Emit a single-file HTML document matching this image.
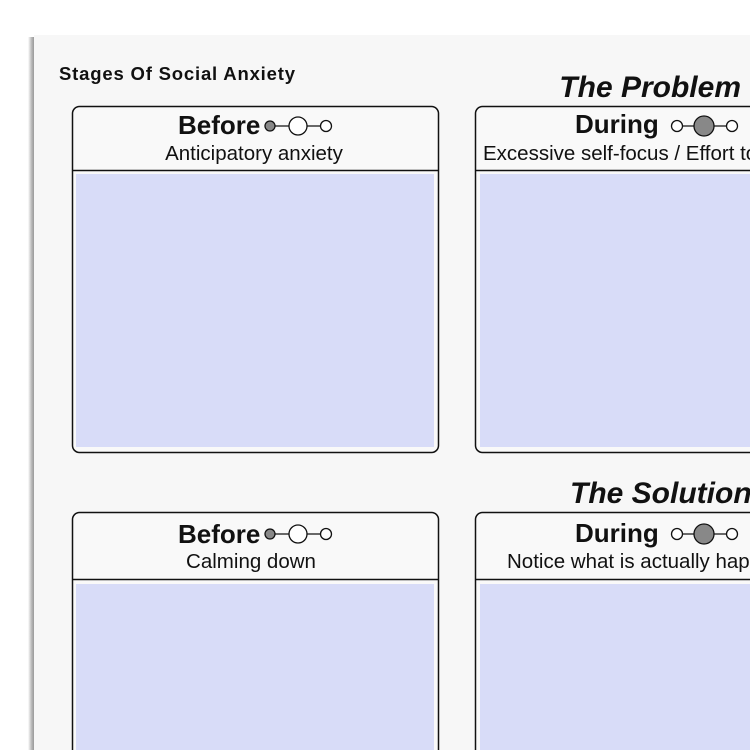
<!DOCTYPE html>
<html><head><style>
html,body{margin:0;padding:0;background:#fff;width:750px;height:750px;overflow:hidden;}
svg{display:block;}
</style></head><body>
<svg width="750" height="750" viewBox="0 0 750 750" xmlns="http://www.w3.org/2000/svg" font-family="Liberation Sans, sans-serif">
<defs>
<linearGradient id="sh" x1="0" x2="1" y1="0" y2="0">
<stop offset="0" stop-color="#fff"/><stop offset="0.6" stop-color="#b8b8b8"/><stop offset="1" stop-color="#9a9a9a"/>
</linearGradient>
</defs>
<rect width="750" height="750" fill="#fff"/>
<rect x="28" y="37" width="6" height="713" fill="url(#sh)"/>
<rect x="34" y="35" width="716" height="715" fill="#f7f7f7"/>
<text x="59" y="80" font-size="18.5" font-weight="bold" fill="#111" textLength="236">Stages Of Social Anxiety</text>
<text x="741" y="97" font-size="30" font-weight="bold" font-style="italic" text-anchor="end" fill="#111">The Problem</text>
<text x="570" y="503" font-size="30" font-weight="bold" font-style="italic" fill="#111">The Solution</text>

<!-- box 1 -->
<rect x="72.5" y="106.5" width="366" height="346" rx="7" fill="#f9f9f9" stroke="#111" stroke-width="1.5"/>
<line x1="72" y1="170.5" x2="439" y2="170.5" stroke="#111" stroke-width="1.5"/>
<rect x="76" y="174" width="358" height="273" fill="#d8dcf8"/>
<text x="178" y="134" font-size="26" font-weight="bold" fill="#111">Before</text>
<text x="254" y="160" font-size="20.5" text-anchor="middle" fill="#111">Anticipatory anxiety</text>
<g stroke="#111" stroke-width="1.3">
<line x1="270" y1="126" x2="326" y2="126"/>
<circle cx="270" cy="126" r="5" fill="#888"/>
<circle cx="298" cy="126" r="9" fill="#fff"/>
<circle cx="326" cy="126" r="5.5" fill="#fff"/>
</g>

<!-- box 2 -->
<rect x="475.5" y="106.5" width="340" height="346" rx="7" fill="#f9f9f9" stroke="#111" stroke-width="1.5"/>
<line x1="475" y1="170.5" x2="750" y2="170.5" stroke="#111" stroke-width="1.5"/>
<rect x="480" y="174" width="280" height="273" fill="#d8dcf8"/>
<text x="575" y="133" font-size="26" font-weight="bold" fill="#111">During</text>
<text x="483" y="160" font-size="20.5" fill="#111">Excessive self-focus / Effort to</text>
<g stroke="#111" stroke-width="1.3">
<line x1="677" y1="126" x2="732" y2="126"/>
<circle cx="677" cy="126" r="5.5" fill="#fff"/>
<circle cx="704" cy="126" r="10" fill="#888"/>
<circle cx="732" cy="126" r="5.5" fill="#fff"/>
</g>

<!-- box 3 -->
<rect x="72.5" y="512.5" width="366" height="300" rx="7" fill="#f9f9f9" stroke="#111" stroke-width="1.5"/>
<line x1="72" y1="579.5" x2="439" y2="579.5" stroke="#111" stroke-width="1.5"/>
<rect x="76" y="584" width="358" height="200" fill="#d8dcf8"/>
<text x="178" y="543" font-size="26" font-weight="bold" fill="#111">Before</text>
<text x="251" y="568" font-size="20.5" text-anchor="middle" fill="#111">Calming down</text>
<g stroke="#111" stroke-width="1.3">
<line x1="270" y1="534" x2="326" y2="534"/>
<circle cx="270" cy="534" r="5" fill="#888"/>
<circle cx="298" cy="534" r="9" fill="#fff"/>
<circle cx="326" cy="534" r="5.5" fill="#fff"/>
</g>

<!-- box 4 -->
<rect x="475.5" y="512.5" width="340" height="300" rx="7" fill="#f9f9f9" stroke="#111" stroke-width="1.5"/>
<line x1="475" y1="579.5" x2="750" y2="579.5" stroke="#111" stroke-width="1.5"/>
<rect x="480" y="584" width="280" height="200" fill="#d8dcf8"/>
<text x="575" y="542" font-size="26" font-weight="bold" fill="#111">During</text>
<text x="507" y="568" font-size="20.5" fill="#111">Notice what is actually hap</text>
<g stroke="#111" stroke-width="1.3">
<line x1="677" y1="534" x2="732" y2="534"/>
<circle cx="677" cy="534" r="5.5" fill="#fff"/>
<circle cx="704" cy="534" r="10" fill="#888"/>
<circle cx="732" cy="534" r="5.5" fill="#fff"/>
</g>
</svg>
</body></html>
